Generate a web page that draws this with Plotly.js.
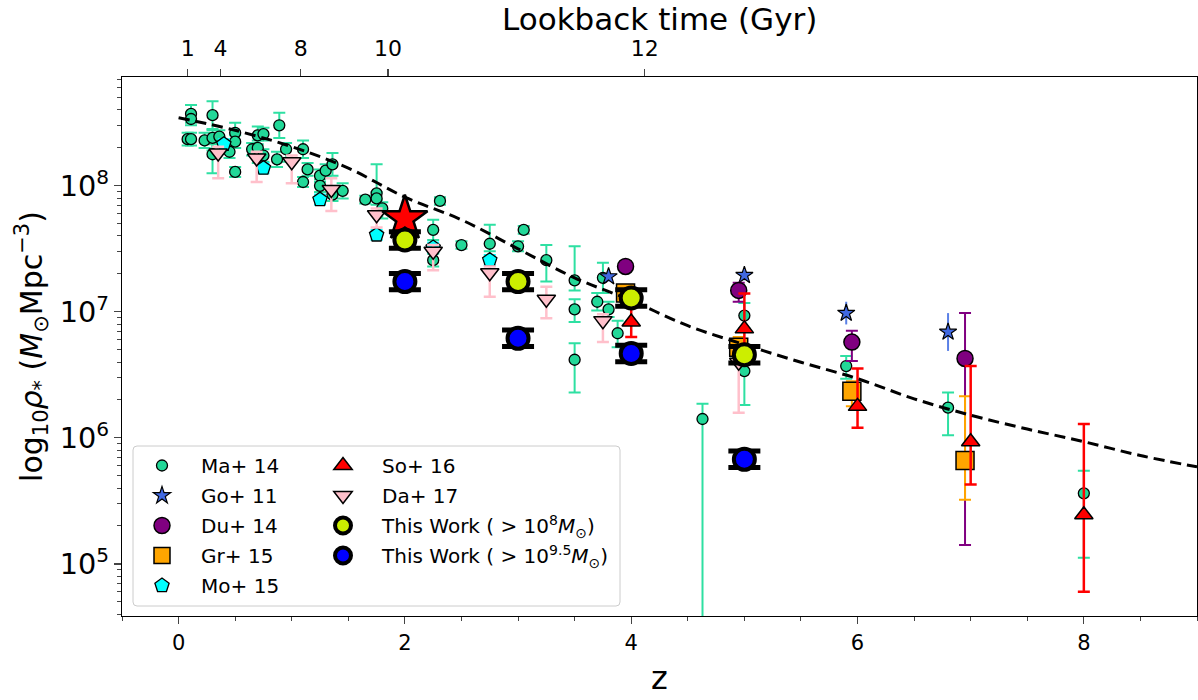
<!DOCTYPE html>
<html><head><meta charset="utf-8">
<script src="https://cdn.plot.ly/plotly-3.0.1.min.js"></script>
<style>html,body{margin:0;padding:0;background:#fff;}#chart{width:1198px;height:700px;}</style>
</head><body><div id="chart"></div>
<script>
// ---- data (log10 of stellar mass density, dex errors) ----
const maZ   = [0.11,0.11,0.08,0.11,0.30,0.23,0.30,0.36,0.30,0.45,0.50,0.50,0.50,0.65,0.70,0.75,0.70,0.75,0.89,0.87,0.95,1.10,1.14,1.10,1.25,1.25,1.30,1.36,1.36,1.45,1.65,1.75,1.75,1.80,2.31,2.25,2.25,2.50,2.75,3.05,3.00,3.25,3.50,3.50,3.50,3.75,3.70,3.80,3.88,4.63,5.00,5.00,5.90,6.80,8.00];
const maLog = [8.57,8.53,8.37,8.37,8.56,8.36,8.38,8.39,8.25,8.27,8.42,8.35,8.11,8.29,8.40,8.41,8.30,8.24,8.48,8.21,8.29,8.29,8.13,8.03,8.08,8.00,8.12,8.17,7.93,7.96,7.89,7.94,7.90,7.82,7.88,7.65,7.41,7.53,7.54,7.65,7.52,7.41,7.25,7.02,6.62,7.27,7.08,7.02,6.83,6.15,6.97,6.53,6.57,6.24,5.56];
const maUp  = [0.07,0.05,0.05,0.05,0.11,0.06,0.06,0.05,0.08,0.05,0.08,0.05,0.04,0.05,0.07,0.05,0.06,0.05,0.10,0.06,0.05,0.07,0.05,0.04,0.05,0.05,0.05,0.09,0.05,0.06,0.03,0.23,0.05,0.05,0.03,0.08,0.05,0.03,0.15,0.03,0.04,0.12,0.27,0.08,0.13,0.12,0.07,0.06,0.10,0.12,0.10,0.08,0.08,0.12,0.18];
const maDn  = [0.07,0.05,0.05,0.05,0.11,0.06,0.10,0.05,0.15,0.05,0.08,0.05,0.04,0.05,0.07,0.05,0.12,0.05,0.10,0.06,0.10,0.07,0.05,0.04,0.05,0.05,0.05,0.09,0.05,0.06,0.03,0.05,0.05,0.08,0.03,0.08,0.05,0.03,0.06,0.03,0.04,0.17,0.08,0.10,0.26,0.12,0.07,0.06,0.11,3.00,0.10,0.27,0.10,0.22,0.51];

const goZ   = [3.80,5.00,5.90,6.80];
const goLog = [7.28,7.29,6.99,6.84];
const goErr = [0.04,0.04,0.09,0.15];

const duZ   = [3.95,4.95,5.95,6.95];
const duLog = [7.36,7.17,6.76,6.63];
const duUp  = [0.03,0.06,0.09,0.36];
const duDn  = [0.03,0.09,0.15,1.48];

const grZ   = [3.95,4.95,5.95,6.95];
const grLog = [7.15,6.72,6.37,5.82];
const grUp  = [0.05,0.08,0.08,0.51];
const grDn  = [0.05,0.08,0.12,0.31];

const moZ   = [0.40,0.75,1.25,1.75,2.25,2.75];
const moLog = [8.33,8.14,7.89,7.61,7.51,7.41];
const moErr = [0.04,0.04,0.04,0.04,0.04,0.04];

const soZ   = [4.0,5.0,6.0,7.0,8.0];
const soLog = [6.92,6.865,6.25,5.97,5.39];
const soUp  = [0.12,0.28,0.30,0.60,0.72];
const soDn  = [0.12,0.20,0.17,0.34,0.61];

const daZ   = [0.35,0.69,1.00,1.35,1.75,2.25,2.75,3.25,3.75,4.95];
const daLog = [8.26,8.22,8.19,7.97,7.77,7.48,7.31,7.10,6.93,6.60];
const daUp  = [0.05,0.05,0.05,0.09,0.05,0.05,0.05,0.10,0.05,0.10];
const daDn  = [0.20,0.19,0.17,0.17,0.10,0.15,0.19,0.15,0.17,0.40];

const tw8Z   = [2,3,4,5];
const tw8Log = [7.57,7.24,7.11,6.66];
const tw95Z   = [2,3,4,5];
const tw95Log = [7.24,6.79,6.67,5.83];
const twErr  = [0.065,0.065,0.065,0.065];

const starZ = [2.0];
const starLog = [7.74];

const fitZ   = [0,0.5,1,1.5,2,2.5,3,3.5,4,4.5,5,5.5,6,6.5,7,7.5,8,8.5,9];
const fitLog = [8.54,8.44,8.31,8.14,7.91,7.73,7.50,7.27,7.09,6.89,6.74,6.60,6.47,6.31,6.18,6.07,5.97,5.86,5.77];

const topTickZ    = [0.08,0.37,1.08,1.85,4.12];
const topTickText = ["1","4","8","10","12"];
const topTitle = 'Lookback time (Gyr)';

const labels = ["Ma+ 14","Go+ 11","Du+ 14","Gr+ 15","Mo+ 15","So+ 16","Da+ 17",
  "This Work ( &gt; 10<sup>8</sup><i>M</i><sub>⊙</sub>)","This Work ( &gt; 10<sup>9.5</sup><i>M</i><sub>⊙</sub>)"];

// ---- helpers ----
const lin = a => a.map(v => Math.pow(10, v));
const eP = (l, e) => l.map((v, i) => Math.pow(10, v + e[i]) - Math.pow(10, v));
const eM = (l, e) => l.map((v, i) => Math.pow(10, v) - Math.pow(10, v - e[i]));
const PAD = '\u00a0\u00a0\u00a0';

function pts(name, z, lg, up, dn, sym, fill, size, ecol, leg, lw, ew, et) {
  return {
    type: 'scatter', mode: 'markers', name: PAD + name, x: z, y: lin(lg),
    legend: leg, legendgroup: name,
    marker: {symbol: sym, color: fill, size: size, line: {color: 'black', width: lw ?? 1.3}},
    error_y: {type: 'data', symmetric: false, array: eP(lg, up), arrayminus: eM(lg, dn),
      color: ecol, thickness: et ?? 2, width: ew ?? 6},
    hoverinfo: 'skip'
  };
}

const green = '#22d898';
const traces = [
  pts(labels[0], maZ, maLog, maUp, maDn, 'circle', green, 11, '#2ee0a2', 'legend'),
  pts(labels[1], goZ, goLog, goErr, goErr, 'star', '#4169e1', 13, '#5a80e6', 'legend', 1.2, 0),
  pts(labels[2], duZ, duLog, duUp, duDn, 'circle', '#800080', 16, '#800080', 'legend', 1.5),
  pts(labels[3], grZ, grLog, grUp, grDn, 'square', '#ffa500', 18, '#ffa500', 'legend', 1.5),
  pts(labels[4], moZ, moLog, moErr, moErr, 'pentagon', '#00ffff', 15, '#00ffff', 'legend', 1.3),
  pts(labels[5], soZ, soLog, soUp, soDn, 'triangle-up', '#ff0000', 16, '#ff0000', 'legend2', 1.5, 6, 2.5),
  pts(labels[6], daZ, daLog, daUp, daDn, 'triangle-down', '#ffc0cb', 16, '#ffc0cb', 'legend2', 1.5, 6, 2.5),
  {type: 'scatter', mode: 'lines', x: fitZ, y: lin(fitLog), showlegend: false, hoverinfo: 'skip',
   line: {color: 'black', width: 3, dash: '11px,6px', shape: 'spline'}},
  {type: 'scatter', mode: 'markers', x: starZ, y: lin(starLog), showlegend: false, hoverinfo: 'skip',
   marker: {symbol: 'star', color: '#ff0000', size: 34, line: {color: 'black', width: 2.5}}},
  pts(labels[7], tw8Z, tw8Log, twErr, twErr, 'circle', '#ccee00', 21, 'black', 'legend2', 4, 16, 5),
  pts(labels[8], tw95Z, tw95Log, twErr, twErr, 'circle', '#0000ff', 21, 'black', 'legend2', 4, 16, 5),
  {type: 'scatter', mode: 'markers', x: [0], y: [1e6], xaxis: 'x2', showlegend: false,
   hoverinfo: 'skip', marker: {opacity: 0}}
];

const TOP = 77, BOT = 616, LEFT = 122, RIGHT = 1197;
const px = v => (v - LEFT) / (RIGHT - LEFT);
const py = v => (BOT - v) / (BOT - TOP);
const r = 4;
const bx0 = px(133), bx1 = px(620), by0 = py(606), by1 = py(446);
const rx = r / (RIGHT - LEFT), ry = r / (BOT - TOP);
const boxPath = `M ${bx0+rx} ${by0} L ${bx1-rx} ${by0} Q ${bx1} ${by0} ${bx1} ${by0+ry} L ${bx1} ${by1-ry} Q ${bx1} ${by1} ${bx1-rx} ${by1} L ${bx0+rx} ${by1} Q ${bx0} ${by1} ${bx0} ${by1-ry} L ${bx0} ${by0+ry} Q ${bx0} ${by0} ${bx0+rx} ${by0} Z`;

const F = 'DejaVu Sans, Arial, sans-serif';
const layout = {
  width: 1198, height: 700,
  margin: {l: LEFT, r: 1198 - RIGHT, t: TOP, b: 700 - BOT},
  paper_bgcolor: '#fff', plot_bgcolor: '#fff',
  font: {family: F, color: 'black', size: 20},
  xaxis: {
    range: [-0.5, 9], dtick: 2, tick0: 0, ticks: 'outside', ticklen: 7, tickwidth: 1.2,
    showgrid: false, zeroline: false, showline: true, linecolor: 'black', linewidth: 1.3, mirror: true,
    tickfont: {size: 21}, minor: {dtick: 0.5, ticks: 'outside', ticklen: 4, tickwidth: 1, showgrid: false},
    title: {text: 'z', font: {size: 32}, standoff: 13}
  },
  xaxis2: {
    overlaying: 'x', side: 'top', range: [-0.5, 9], tickmode: 'array',
    tickvals: topTickZ, ticktext: topTickText, ticks: 'outside', ticklen: 7, tickwidth: 1.2,
    ticklabelstandoff: 4,
    showgrid: false, zeroline: false, showline: false, tickfont: {size: 22}
  },
  yaxis: {
    type: 'log', range: [4.587, 8.863], dtick: 1, exponentformat: 'power', showexponent: 'all',
    ticks: 'outside', ticklen: 7, tickwidth: 1.2, showgrid: false, zeroline: false,
    showline: true, linecolor: 'black', linewidth: 1.3, mirror: true, tickfont: {size: 23},
    minor: {dtick: 'D1', ticks: 'outside', ticklen: 4, tickwidth: 1, showgrid: false},
    title: {text: 'log<sub>10</sub><i>ρ</i><sub>*</sub> (<i>M</i><sub>⊙</sub>Mpc<sup>−3</sup>)', font: {size: 30}, standoff: 8}
  },
  annotations: [{text: topTitle, xref: 'paper', yref: 'paper', x: 0.5, y: py(19),
    xanchor: 'center', yanchor: 'middle', showarrow: false, borderpad: 0, font: {size: 31}}],
  legend: {x: px(142), y: py(446), xanchor: 'left', yanchor: 'top', bgcolor: 'rgba(0,0,0,0)',
    font: {size: 20}, tracegroupgap: 1, itemsizing: 'trace'},
  legend2: {x: px(323), y: py(446), xanchor: 'left', yanchor: 'top', bgcolor: 'rgba(0,0,0,0)',
    font: {size: 20}, tracegroupgap: 1, itemsizing: 'trace'},
  shapes: [{type: 'path', xref: 'paper', yref: 'paper', path: boxPath,
    line: {color: '#cccccc', width: 1}, fillcolor: 'rgba(255,255,255,0.8)', layer: 'above'}],
  showlegend: true
};

Plotly.newPlot('chart', traces, layout, {displayModeBar: false, staticPlot: true});
</script>
</body></html>
